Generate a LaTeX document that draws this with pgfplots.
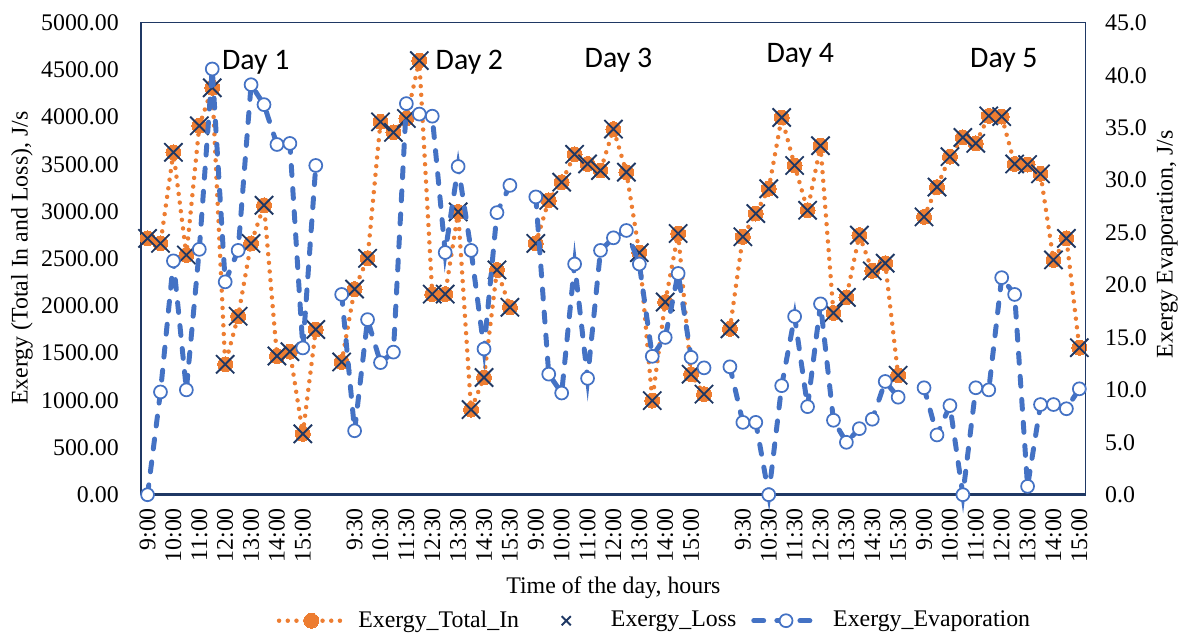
\documentclass[border=0pt]{standalone}
\usepackage{fontspec}
\setmainfont{Liberation Serif}
\newfontfamily\dayfont{Carlito}
\usepackage{pgfplots}
\usepackage{pgfplotstable}
\pgfplotsset{compat=1.18}

\definecolor{exorange}{RGB}{237,125,49}
\definecolor{exblue}{RGB}{68,114,196}
\definecolor{exnavy}{RGB}{31,56,100}

\newcommand\lbl{\rmfamily\fontsize{9.6}{11}\selectfont}

% idx = half-hour slot, nan = gap between days
\pgfplotstableread{
idx tin  loss ev
0   2716 2716 0.0
1   2663 2663 9.8
2   3628 3628 22.3
3   2540 2540 10.0
4   3909 3909 23.4
5   4312 4312 40.6
6   1382 1382 20.3
7   1891 1891 23.3
8   2663 2663 39.1
9   3067 3067 37.2
10  1470 1470 33.4
11  1516 1516 33.5
12  645  645  14.0
13  1751 1751 31.4
14  nan  nan  nan
15  1407 1407 19.1
16  2179 2179 6.1
17  2505 2505 16.7
18  3951 3951 12.6
19  3839 3839 13.6
20  3986 3986 37.3
21  4600 4600 36.3
22  2126 2126 36.1
23  2126 2126 23.1
24  2997 2997 31.3
25  902  902  23.3
26  1242 1242 13.9
27  2382 2382 26.9
28  1986 1986 29.5
29  nan  nan  nan
30  2663 2663 28.4
31  3119 3119 11.5
32  3312 3312 9.7
33  3607 3607 22.0
34  3505 3505 11.1
35  3435 3435 23.3
36  3874 3874 24.5
37  3418 3418 25.2
38  2565 2565 22.0
39  997  997  13.2
40  2042 2042 15.0
41  2768 2768 21.1
42  1277 1277 13.1
43  1066 1066 12.1
44  nan  nan  nan
45  1758 1758 12.2
46  2733 2733 6.9
47  2979 2979 6.9
48  3242 3242 0.0
49  3997 3997 10.4
50  3488 3488 17.0
51  3014 3014 8.4
52  3698 3698 18.2
53  1926 1926 7.1
54  2091 2091 5.0
55  2751 2751 6.3
56  2372 2372 7.2
57  2453 2453 10.8
58  1266 1266 9.3
59  nan  nan  nan
60  2944 2944 10.2
61  3260 3260 5.7
62  3582 3582 8.5
63  3786 3786 0.0
64  3723 3723 10.2
65  4014 4014 10.0
66  4007 4007 20.7
67  3505 3505 19.1
68  3498 3498 0.8
69  3400 3400 8.6
70  2488 2488 8.6
71  2716 2716 8.2
72  1558 1558 10.1
}\exdata

\pgfplotsset{
  totin/.style={exorange, line width=1.8pt, line cap=round, dash pattern=on 0pt off 3.5pt,
    mark=*, mark size=3pt, mark options={solid, fill=exorange, draw=exorange, line width=0pt}},
  loss/.style={only marks, mark=x, mark size=5.2pt, mark options={draw=exnavy, line width=0.75pt},
    legend image code/.code={\path[draw=none, fill=none] (0pt,-3pt) rectangle (26pt,3pt);
      \draw[##1, mark size=2.6pt] plot coordinates {(13pt,0pt)};}},
  evap/.style={exblue, line width=2pt, line cap=round, dash pattern=on 4pt off 5.3pt,
    mark=*, mark size=2.6pt, mark options={solid, fill=white, draw=exblue, line width=0.7pt}},
  both/.style={
    scale only axis, width=380.4pt, height=190pt,
    xmin=-0.5, xmax=72.5, clip=false,
    major tick length=0pt,
    unbounded coords=jump,
    axis line style={draw=exnavy, line width=0.5pt},
    label style={font=\lbl},
    tick label style={font=\lbl},
    /pgf/number format/assume math mode=true,
    legend image code/.code={\draw[mark repeat=2, mark phase=2, ##1]
      plot coordinates {(0pt,0pt) (13pt,0pt) (26pt,0pt)};},
  },
}

\begin{document}
\begin{tikzpicture}
\begin{axis}[both,
  ymin=0, ymax=5000,
  xtick={0,2,...,72},
  xticklabels={9:00,10:00,11:00,12:00,13:00,14:00,15:00,{},
    9:30,10:30,11:30,12:30,13:30,14:30,15:30,
    9:00,10:00,11:00,12:00,13:00,14:00,15:00,{},
    9:30,10:30,11:30,12:30,13:30,14:30,15:30,
    9:00,10:00,11:00,12:00,13:00,14:00,15:00},
  xticklabel style={rotate=90, anchor=east, inner sep=0pt},
  xticklabel shift=5.2pt,
  ytick={0,500,...,5000},
  yticklabel={\pgfmathprintnumber[fixed, fixed zerofill, precision=2, 1000 sep={}, assume math mode=true]{\tick}},
  yticklabel style={anchor=east, inner sep=0pt, xshift=-8.8pt},
  xlabel={Time of the day, hours},
  xlabel style={at={(axis description cs:0.5,-0.2084)}, anchor=base},
  ylabel={Exergy (Total In and Loss), J/s},
  ylabel style={at={(axis description cs:-0.1262,0.501)}, anchor=center},
]
\addplot[totin] table[x=idx, y=tin] {\exdata};
\addplot[loss] table[x=idx, y=loss] {\exdata};
\draw[exnavy, line width=1pt] (rel axis cs:0,0) -- (rel axis cs:1,0);
\end{axis}

\begin{axis}[both,
  ymin=0, ymax=45,
  axis x line=none, axis y line*=right,
  ytick={0,5,...,45},
  yticklabel={\pgfmathprintnumber[fixed, fixed zerofill, precision=1, assume math mode=true]{\tick}},
  yticklabel style={anchor=west, inner sep=0pt, xshift=7.6pt},
  ylabel={Exergy Evaporation, J/s},
  ylabel style={at={(axis description cs:1.0862,0.5305)}, anchor=center},
  legend style={at={(axis description cs:0.545,-0.267)}, anchor=center,
    draw=none, fill=none, font=\lbl, legend columns=3,
    /tikz/every odd column/.append style={column sep=3pt},
    /tikz/every even column/.append style={column sep=4pt}},
]
\addlegendimage{totin}
\addlegendentry{Exergy\_Total\_In}
\addlegendimage{loss}
\addlegendentry{Exergy\_Loss}
\addplot[evap] table[x=idx, y=ev] {\exdata};
\addlegendentry{Exergy\_Evaporation}
\end{axis}

% day captions, placed in pt from the plot area's lower left corner
\begin{scope}[every node/.style={anchor=base, font=\fontsize{12}{14}\dayfont}]
\node at (46.2pt,171.2pt) {Day 1};
\node at (132.2pt,171.2pt) {Day 2};
\node at (192.2pt,172pt) {Day 3};
\node at (265.4pt,174pt) {Day 4};
\node at (347.4pt,172pt) {Day 5};
\end{scope}
\path (-56.8pt,-55.6pt) rectangle (417.6pt,199.2pt);
\end{tikzpicture}
\end{document}
